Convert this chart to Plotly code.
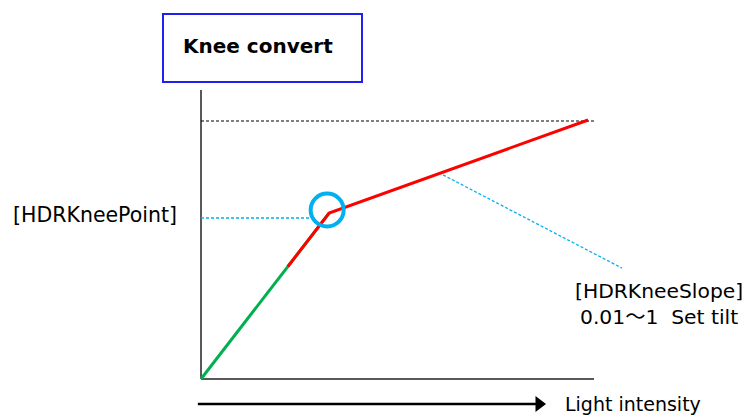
import plotly.graph_objects as go

# ---- data (conceptual units: input light 0..100, output 0..100) ----
green_x = [0, 32.6]
green_y = [0, 64.3]
red_x = [22.1, 32.6, 98.5]
red_y = [43.6, 64.3, 100.4]
max_level_x = [0, 100]
max_level_y = [100, 100]
kneepoint_guide_x = [0, 27.7]
kneepoint_guide_y = [62.4, 62.4]
slope_guide_x = [61.6, 107.1]
slope_guide_y = [79.1, 43.0]
knee_circle = (32.1, 65.5)
axis_y_top = 112
axis_x_end = 100
arrow_x = [-0.8, 86]
arrow_y = [-9.7, -9.7]

title_text = "Knee convert"
kneepoint_label = "[HDRKneePoint]"
slope_label = "[HDRKneeSlope]<br>0.01～1  Set tilt"
xlabel = "Light intensity"

# ---- pixel mapping (origin at 201,379 ; 100 units -> 393 px in x, 258 px in y) ----
W, H = 747, 416
px_x = 3.93
px_y = 2.58
ox, oy = 201, 379
xr = [-ox / px_x, (W - ox) / px_x]
yr = [-(H - oy) / px_y, oy / px_y]

def dx(p):
    return (p - ox) / px_x

def dy(p):
    return (oy - p) / px_y

FONT = "DejaVu Sans, Noto Sans CJK JP"
fig = go.Figure()

# axes
fig.add_trace(go.Scatter(x=[0, 0], y=[0, axis_y_top], mode="lines",
                         line=dict(color="#595959", width=2), hoverinfo="skip"))
fig.add_trace(go.Scatter(x=[0, axis_x_end], y=[0, 0], mode="lines",
                         line=dict(color="#595959", width=2), hoverinfo="skip"))
# max level dashed
fig.add_trace(go.Scatter(x=max_level_x, y=max_level_y, mode="lines",
                         line=dict(color="black", width=1.2, dash="3px,2px"), hoverinfo="skip"))
# guides
fig.add_trace(go.Scatter(x=kneepoint_guide_x, y=kneepoint_guide_y, mode="lines",
                         line=dict(color="#00B0F0", width=1.3, dash="3px,2px"), hoverinfo="skip"))
fig.add_trace(go.Scatter(x=slope_guide_x, y=slope_guide_y, mode="lines",
                         line=dict(color="#00B0F0", width=1.3, dash="3px,2px"), hoverinfo="skip"))
# curves
fig.add_trace(go.Scatter(x=green_x, y=green_y, mode="lines",
                         line=dict(color="#00B050", width=3), hoverinfo="skip"))
fig.add_trace(go.Scatter(x=red_x, y=red_y, mode="lines",
                         line=dict(color="#FF0000", width=3), hoverinfo="skip"))
# arrow
fig.add_trace(go.Scatter(x=arrow_x, y=arrow_y, mode="lines",
                         line=dict(color="black", width=2.5), hoverinfo="skip"))
fig.add_trace(go.Scatter(x=[arrow_x[1]], y=[arrow_y[1]], mode="markers",
                         marker=dict(symbol="triangle-right", size=14, color="black"),
                         hoverinfo="skip"))

shapes = [
    dict(type="circle", xref="x", yref="y", xsizemode="pixel", ysizemode="pixel",
         xanchor=knee_circle[0], yanchor=knee_circle[1],
         x0=-16.5, x1=16.5, y0=-16.5, y1=16.5,
         line=dict(color="#00B0F0", width=4)),
    dict(type="rect", xref="x", yref="y", x0=dx(163), x1=dx(362), y0=dy(82), y1=dy(14),
         line=dict(color="#1F1FF0", width=2), fillcolor="white"),
]

annotations = [
    dict(x=dx(258), y=dy(46), text=f"<b>{title_text}</b>", showarrow=False,
         font=dict(family=FONT, size=20, color="black")),
    dict(x=dx(94.5), y=dy(215), text=kneepoint_label, showarrow=False,
         font=dict(family=FONT, size=20.5, color="black")),
    dict(x=dx(659), y=dy(304), text=slope_label, showarrow=False, align="center",
         font=dict(family=FONT, size=20.3, color="black")),
    dict(x=dx(563), y=dy(404), text=xlabel, showarrow=False, xanchor="left",
         font=dict(family=FONT, size=19, color="black")),
]

fig.update_layout(
    width=W, height=H, margin=dict(l=0, r=0, t=0, b=0),
    paper_bgcolor="white", plot_bgcolor="white", showlegend=False,
    xaxis=dict(range=xr, visible=False, fixedrange=True),
    yaxis=dict(range=yr, visible=False, fixedrange=True),
    shapes=shapes, annotations=annotations,
)
fig.write_html("out.html", config={"displayModeBar": False},
               post_script="document.body.style.margin='0';document.body.style.overflow='hidden';")
